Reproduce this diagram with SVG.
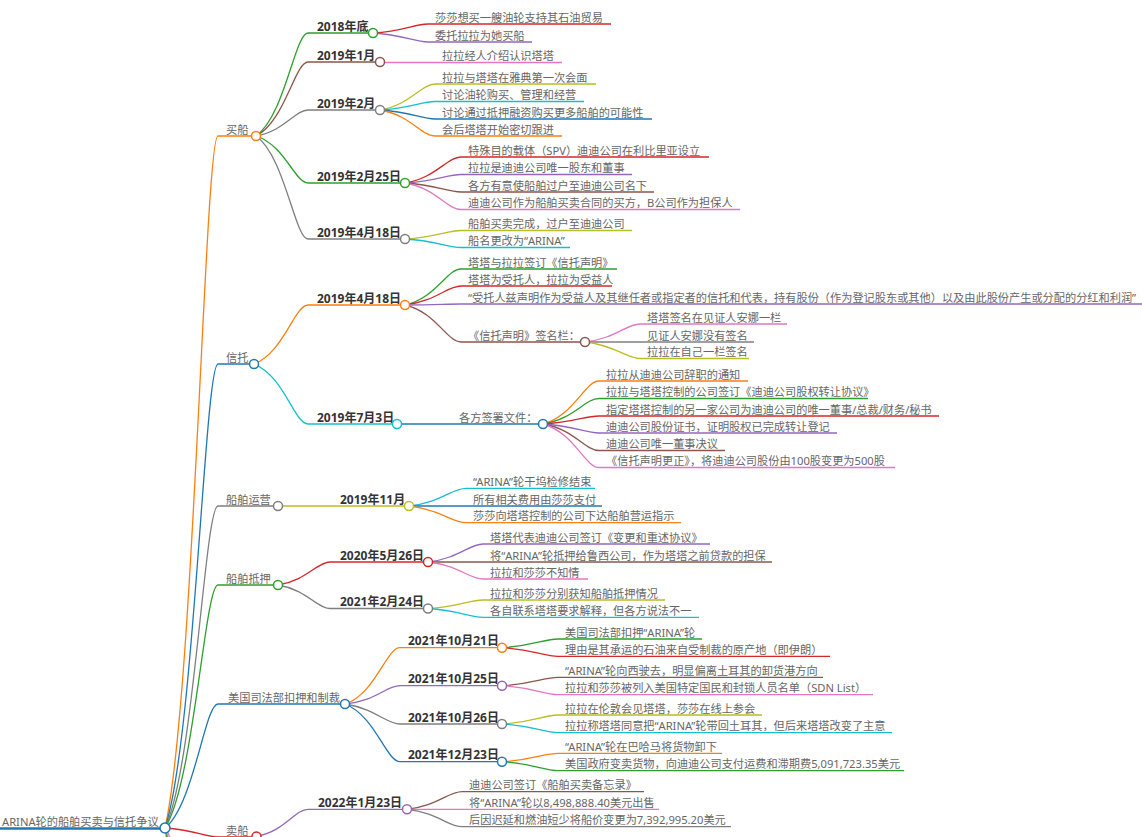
<svg xmlns="http://www.w3.org/2000/svg" width="1142" height="837" viewBox="0 0 1142 837">
<style>
.l{fill:none;stroke-width:1.3}
.o{stroke:#ff7f0e}.b{stroke:#1f77b4}.g{stroke:#2ca02c}.r{stroke:#d62728}.p{stroke:#9467bd}.br{stroke:#8c564b}.pk{stroke:#e377c2}.gy{stroke:#7f7f7f}.ol{stroke:#bcbd22}.cy{stroke:#17becf}
circle{fill:#fff;stroke-width:1.5}
text{font-family:"Noto Sans","Noto Sans CJK SC",sans-serif;font-size:11.2px;fill:#666}
.d{font-size:12px;font-weight:bold;fill:#333}
</style>
<rect width="1142" height="837" fill="#fff"/>
<g id="connectors">
<path class="l b" d="M0 828.5 L165 828.5" style="stroke-width:2.4"/>
<path class="l o" d="M165 828 C194.2 696.5 204.8 136 218 136 L256 136"/>
<path class="l b" d="M165 828 C194.2 739.8 204.8 364 218 364 L254 364"/>
<path class="l gy" d="M165 828 C194.2 766.8 204.8 506 218 506 L278 506"/>
<path class="l g" d="M165 828 C194.2 781.8 204.8 585 218 585 L278 585"/>
<path class="l b" d="M165 828 C194.2 804.4 204.8 704 218 704 L345 704"/>
<path class="l r" d="M165 828 C194.2 829.7 204.8 837 218 837 L256 837"/>
<path class="l o" d="M165 828 C172 845 176 900 180 960"/>
<path class="l g" d="M165 828 C169 845 171 900 173 980"/>
<path class="l pk" d="M165 828 C175 842 182 880 190 930"/>
<path class="l g" d="M256 136 C284.6 116.4 295 33 308 33 L373 33"/>
<path class="l br" d="M256 136 C284.6 121.9 295 62 308 62 L380 62"/>
<path class="l gy" d="M256 136 C284.6 131.1 295 110 308 110 L380 110"/>
<path class="l g" d="M256 136 C284.6 144.9 295 183 308 183 L405 183"/>
<path class="l gy" d="M256 136 C284.6 155.6 295 239 308 239 L405 239"/>
<path class="l r" d="M373 33 C403.3 31.3 414.3 24 428 24 L611 24"/>
<path class="l p" d="M373 33 C403.3 34.7 414.3 42 428 42 L532 42"/>
<path class="l pk" d="M380 62.5 L562 62.5"/>
<path class="l ol" d="M380 110 C410.3 105.1 421.3 84 435 84 L596 84"/>
<path class="l cy" d="M380 110 C410.3 108.4 421.3 101.5 435 101.5 L584 101.5"/>
<path class="l b" d="M380 110 C410.3 111.7 421.3 119 435 119 L652 119"/>
<path class="l o" d="M380 110 C410.3 114.9 421.3 136 435 136 L562 136"/>
<path class="l r" d="M405 183 C435.8 178.1 447 157 461 157 L709 157"/>
<path class="l p" d="M405 183 C435.8 181.4 447 174.5 461 174.5 L632 174.5"/>
<path class="l br" d="M405 183 C435.8 184.7 447 192 461 192 L654 192"/>
<path class="l pk" d="M405 183 C435.8 188 447 209.5 461 209.5 L740 209.5"/>
<path class="l ol" d="M405 239 C435.8 237.4 447 230.5 461 230.5 L632 230.5"/>
<path class="l cy" d="M405 239 C435.8 240.6 447 247.5 461 247.5 L570 247.5"/>
<path class="l o" d="M254 364 C283.7 352.8 294.5 305 308 305 L405 305"/>
<path class="l cy" d="M254 364 C283.7 375.4 294.5 424 308 424 L397 424"/>
<path class="l g" d="M405 305 C435.8 298.2 447 269 461 269 L617 269"/>
<path class="l r" d="M405 305 C435.8 301.4 447 286 461 286 L612 286"/>
<path class="l p" d="M405 305 C435.8 304.8 447 304 461 304 L1142 304"/>
<path class="l br" d="M405 305 C435.8 312 447 342 461 342 L585 342"/>
<path class="l pk" d="M585 342 C615.3 338.6 626.3 324 640 324 L787 324"/>
<path class="l gy" d="M585 342 L754 342"/>
<path class="l ol" d="M585 342 C615.3 345.1 626.3 358.5 640 358.5 L749 358.5"/>
<path class="l b" d="M397 424 L543 424"/>
<path class="l o" d="M543 424 C573.8 415.8 585 381 599 381 L748 381"/>
<path class="l g" d="M543 424 C573.8 419.2 585 398.5 599 398.5 L868 398.5"/>
<path class="l r" d="M543 424 C573.8 422.5 585 416 599 416 L939 416"/>
<path class="l p" d="M543 424 C573.8 425.7 585 433 599 433 L837 433"/>
<path class="l br" d="M543 424 C573.8 429 585 450.5 599 450.5 L725 450.5"/>
<path class="l pk" d="M543 424 C573.8 432.3 585 467.5 599 467.5 L895 467.5"/>
<path class="l ol" d="M278 506 L409 506"/>
<path class="l cy" d="M409 506 C440.4 502.6 451.8 488.3 466 488.3 L595 488.3"/>
<path class="l b" d="M409 506 L602 506"/>
<path class="l o" d="M409 506 C440.4 509.2 451.8 522.7 466 522.7 L681 522.7"/>
<path class="l r" d="M278 585 C306.6 580.6 317 562 330 562 L428 562"/>
<path class="l gy" d="M278 585 C306.6 589.5 317 608.5 330 608.5 L428 608.5"/>
<path class="l p" d="M428 562 C458.3 558.6 469.3 544 483 544 L710 544"/>
<path class="l br" d="M428 562 L772 562"/>
<path class="l pk" d="M428 562 C458.3 565.2 469.3 579 483 579 L588 579"/>
<path class="l ol" d="M428 608.5 C458.3 606.9 469.3 600 483 600 L665 600"/>
<path class="l cy" d="M428 608.5 C458.3 610.2 469.3 617.3 483 617.3 L699 617.3"/>
<path class="l o" d="M345 704 C375.3 694.1 386.3 647.7 400 647.7 L502 647.7"/>
<path class="l p" d="M345 704 C375.3 701.3 386.3 685.7 400 685.7 L502 685.7"/>
<path class="l gy" d="M345 704 C375.3 708.6 386.3 724 400 724 L502 724"/>
<path class="l b" d="M345 704 C375.3 715.8 386.3 761.7 400 761.7 L502 761.7"/>
<path class="l g" d="M502 647.7 C532.8 646 544 639 558 639 L702 639"/>
<path class="l r" d="M502 647.7 C532.8 649.3 544 656.3 558 656.3 L830 656.3"/>
<path class="l br" d="M502 685.7 C532.8 684.1 544 677.3 558 677.3 L823 677.3"/>
<path class="l pk" d="M502 685.7 C532.8 687.4 544 694.7 558 694.7 L873 694.7"/>
<path class="l ol" d="M502 724 C532.8 722.3 544 715 558 715 L762 715"/>
<path class="l cy" d="M502 724 C532.8 725.7 544 732.7 558 732.7 L892 732.7"/>
<path class="l o" d="M502 761.7 C532.8 760.1 544 753.3 558 753.3 L722 753.3"/>
<path class="l g" d="M502 761.7 C532.8 763.4 544 770.7 558 770.7 L904 770.7"/>
<path class="l p" d="M256.5 836.5 C284.8 831.3 295.1 809.3 308 809.3 L407 809.3"/>
<path class="l br" d="M407 809.3 C437.3 806 448.3 791.7 462 791.7 L644 791.7"/>
<path class="l pk" d="M407 809.3 L659 809.3"/>
<path class="l gy" d="M407 809.3 C437.3 812.6 448.3 826.7 462 826.7 L731 826.7"/>
</g>
<g id="root"><text x="2" y="825.5">ARINA轮的船舶买卖与信托争议</text><circle class="b" cx="165" cy="828" r="5"/></g>
<g id="n-buy"><text x="226" y="133.5">买船</text><circle class="o" cx="256" cy="136" r="4.5"/></g>
<g id="n-2018"><text class="d" x="317" y="30.5">2018年底</text><circle class="g" cx="373" cy="33" r="4.5"/></g>
<g id="l1"><text x="435" y="21.5">莎莎想买一艘油轮支持其石油贸易</text></g>
<g id="l2"><text x="435" y="39.5">委托拉拉为她买船</text></g>
<g id="n-201901"><text class="d" x="317" y="59.5">2019年1月</text><circle class="br" cx="380" cy="62" r="4.5"/></g>
<g id="l3"><text x="442" y="60">拉拉经人介绍认识塔塔</text></g>
<g id="n-201902"><text class="d" x="317" y="107.5">2019年2月</text><circle class="gy" cx="380" cy="110" r="4.5"/></g>
<g id="l4"><text x="442" y="81.5">拉拉与塔塔在雅典第一次会面</text></g>
<g id="l5"><text x="442" y="99">讨论油轮购买、管理和经营</text></g>
<g id="l6"><text x="442" y="116.5">讨论通过抵押融资购买更多船舶的可能性</text></g>
<g id="l7"><text x="442" y="133.5">会后塔塔开始密切跟进</text></g>
<g id="n-20190225"><text class="d" x="317" y="180.5">2019年2月25日</text><circle class="g" cx="405" cy="183" r="4.5"/></g>
<g id="l8"><text x="468" y="154.5">特殊目的载体（SPV）迪迪公司在利比里亚设立</text></g>
<g id="l9"><text x="468" y="172">拉拉是迪迪公司唯一股东和董事</text></g>
<g id="l10"><text x="468" y="189.5">各方有意使船舶过户至迪迪公司名下</text></g>
<g id="l11"><text x="468" y="207">迪迪公司作为船舶买卖合同的买方，B公司作为担保人</text></g>
<g id="n-20190418a"><text class="d" x="317" y="236.5">2019年4月18日</text><circle class="gy" cx="405" cy="239" r="4.5"/></g>
<g id="l12"><text x="468" y="228">船舶买卖完成，过户至迪迪公司</text></g>
<g id="l13"><text x="468" y="245">船名更改为“ARINA”</text></g>
<g id="n-trust"><text x="226" y="361.5">信托</text><circle class="b" cx="254" cy="364" r="4.5"/></g>
<g id="n-20190418b"><text class="d" x="317" y="302.5">2019年4月18日</text><circle class="o" cx="405" cy="305" r="4.5"/></g>
<g id="l14"><text x="468" y="266.5">塔塔与拉拉签订《信托声明》</text></g>
<g id="l15"><text x="468" y="283.5">塔塔为受托人，拉拉为受益人</text></g>
<g id="l16"><text x="468" y="301.5">“受托人兹声明作为受益人及其继任者或指定者的信托和代表，持有股份（作为登记股东或其他）以及由此股份产生或分配的分红和利润”</text></g>
<g id="n-sign"><text x="468" y="339.5">《信托声明》签名栏：</text><circle class="br" cx="585" cy="342" r="4.5"/></g>
<g id="l17"><text x="647" y="321.5">塔塔签名在见证人安娜一栏</text></g>
<g id="l18"><text x="647" y="339.5">见证人安娜没有签名</text></g>
<g id="l19"><text x="647" y="356">拉拉在自己一栏签名</text></g>
<g id="n-20190703"><text class="d" x="317" y="421.5">2019年7月3日</text><circle class="cy" cx="397" cy="424" r="4.5"/></g>
<g id="n-docs"><text x="459" y="421.5">各方签署文件：</text><circle class="b" cx="543" cy="424" r="4.5"/></g>
<g id="l20"><text x="606" y="378.5">拉拉从迪迪公司辞职的通知</text></g>
<g id="l21"><text x="606" y="396">拉拉与塔塔控制的公司签订《迪迪公司股权转让协议》</text></g>
<g id="l22"><text x="606" y="413.5">指定塔塔控制的另一家公司为迪迪公司的唯一董事/总裁/财务/秘书</text></g>
<g id="l23"><text x="606" y="430.5">迪迪公司股份证书，证明股权已完成转让登记</text></g>
<g id="l24"><text x="606" y="448">迪迪公司唯一董事决议</text></g>
<g id="l25"><text x="606" y="465">《信托声明更正》，将迪迪公司股份由100股变更为500股</text></g>
<g id="n-ops"><text x="226" y="503.5">船舶运营</text><circle class="gy" cx="278" cy="506" r="4.5"/></g>
<g id="n-201911"><text class="d" x="340" y="503.5">2019年11月</text><circle class="ol" cx="409" cy="506" r="4.5"/></g>
<g id="l26"><text x="473" y="486">“ARINA”轮干坞检修结束</text></g>
<g id="l27"><text x="473" y="503.5">所有相关费用由莎莎支付</text></g>
<g id="l28"><text x="473" y="520">莎莎向塔塔控制的公司下达船舶营运指示</text></g>
<g id="n-mort"><text x="226" y="582.5">船舶抵押</text><circle class="g" cx="278" cy="585" r="4.5"/></g>
<g id="n-20200526"><text class="d" x="340" y="559.5">2020年5月26日</text><circle class="r" cx="428" cy="562" r="4.5"/></g>
<g id="l29"><text x="490" y="541.5">塔塔代表迪迪公司签订《变更和重述协议》</text></g>
<g id="l30"><text x="490" y="559.5">将“ARINA”轮抵押给鲁西公司，作为塔塔之前贷款的担保</text></g>
<g id="l31"><text x="490" y="576.5">拉拉和莎莎不知情</text></g>
<g id="n-20210224"><text class="d" x="340" y="606">2021年2月24日</text><circle class="gy" cx="428" cy="608.5" r="4.5"/></g>
<g id="l32"><text x="490" y="597.5">拉拉和莎莎分别获知船舶抵押情况</text></g>
<g id="l33"><text x="490" y="614.8">各自联系塔塔要求解释，但各方说法不一</text></g>
<g id="n-us"><text x="228" y="701.5">美国司法部扣押和制裁</text><circle class="b" cx="345" cy="704" r="4.5"/></g>
<g id="n-20211021"><text class="d" x="408" y="645">2021年10月21日</text><circle class="o" cx="502" cy="647.7" r="4.5"/></g>
<g id="l34"><text x="565" y="636.5">美国司法部扣押“ARINA”轮</text></g>
<g id="l35"><text x="565" y="653.8">理由是其承运的石油来自受制裁的原产地（即伊朗）</text></g>
<g id="n-20211025"><text class="d" x="408" y="683">2021年10月25日</text><circle class="p" cx="502" cy="685.7" r="4.5"/></g>
<g id="l36"><text x="565" y="674.8">“ARINA”轮向西驶去，明显偏离土耳其的卸货港方向</text></g>
<g id="l37"><text x="565" y="692.2">拉拉和莎莎被列入美国特定国民和封锁人员名单（SDN List）</text></g>
<g id="n-20211026"><text class="d" x="408" y="721.5">2021年10月26日</text><circle class="gy" cx="502" cy="724" r="4.5"/></g>
<g id="l38"><text x="565" y="712.5">拉拉在伦敦会见塔塔，莎莎在线上参会</text></g>
<g id="l39"><text x="565" y="730.2">拉拉称塔塔同意把“ARINA”轮带回土耳其，但后来塔塔改变了主意</text></g>
<g id="n-20211223"><text class="d" x="408" y="759">2021年12月23日</text><circle class="b" cx="502" cy="761.7" r="4.5"/></g>
<g id="l40"><text x="565" y="750.8">“ARINA”轮在巴哈马将货物卸下</text></g>
<g id="l41"><text x="565" y="768.2">美国政府变卖货物，向迪迪公司支付运费和滞期费5,091,723.35美元</text></g>
<g id="n-sell"><text x="226" y="834.5">卖船</text><circle class="r" cx="256.5" cy="836.5" r="4.5"/></g>
<g id="n-20220123"><text class="d" x="318" y="806.8">2022年1月23日</text><circle class="p" cx="407" cy="809.3" r="4.5"/></g>
<g id="l42"><text x="469" y="789.2">迪迪公司签订《船舶买卖备忘录》</text></g>
<g id="l43"><text x="469" y="806.8">将“ARINA”轮以8,498,888.40美元出售</text></g>
<g id="l44"><text x="469" y="824.2">后因迟延和燃油短少将船价变更为7,392,995.20美元</text></g>
</svg>
